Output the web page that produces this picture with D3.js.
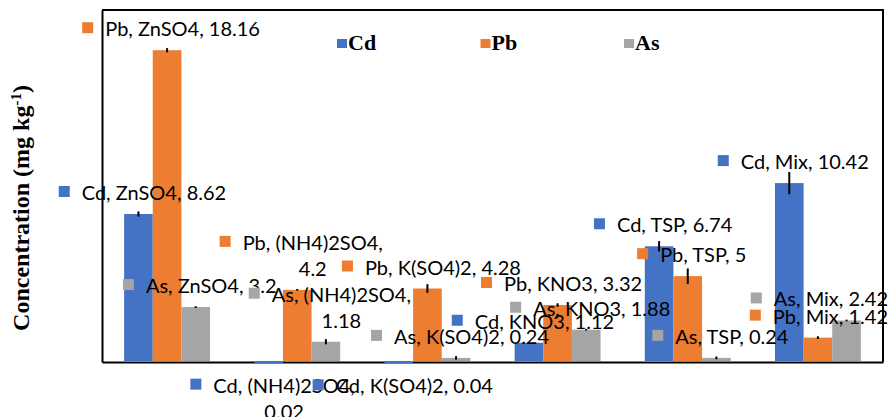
<!DOCTYPE html>
<html>
<head>
<meta charset="utf-8">
<script src="https://cdn.jsdelivr.net/npm/d3@7"></script>
<style>
    body { margin: 0; background: #fff; }
    svg { display: block; }
</style>
</head>
<body>
<svg id="chart" width="890" height="417"></svg>
<script>
var categories = ["ZnSO4", "(NH4)2SO4", "K(SO4)2", "KNO3", "TSP", "Mix"];
var seriesNames = ["Cd", "Pb", "As"];
var cdValues = [8.62, 0.02, 0.04, 1.12, 6.74, 10.42];
var pbValues = [18.16, 4.2, 4.28, 3.32, 5, 1.42];
var asValues = [3.2, 1.18, 0.24, 1.88, 0.24, 2.42];
var cdErrors = [0.15, 0, 0, 0.05, 0.3, 0.65];
var pbErrors = [0.12, 0.05, 0.25, 0.1, 0.45, 0.08];
var asErrors = [0.05, 0.15, 0.1, 0.05, 0.08, 0.05];
// labels that were dragged away from their default spot (pixels, downwards)
var movedLabels = [
    { series: "Cd", category: "(NH4)2SO4", dy: 71 },
    { series: "Cd", category: "K(SO4)2", dy: 46 }
];

var colors = { Cd: "#4472C4", Pb: "#ED7D31", As: "#A5A5A5" };
var values = { Cd: cdValues, Pb: pbValues, As: asValues };
var errors = { Cd: cdErrors, Pb: pbErrors, As: asErrors };

var plot = { left: 102, right: 883, top: 10, bottom: 362 };
var labelFont = "Lato, 'Open Sans', sans-serif";
var serifFont = "'Liberation Serif', 'Times New Roman', serif";

var svg = d3.select("#chart");

var x0 = d3.scaleBand()
    .domain(categories)
    .range([plot.left, plot.right])
    .paddingInner(0.34)
    .paddingOuter(0.17);

var x1 = d3.scaleBand()
    .domain(seriesNames)
    .range([0, x0.bandwidth()]);

var y = d3.scaleLinear()
    .domain([0, 20.5])
    .range([plot.bottom, plot.top]);

var rows = [];
seriesNames.forEach(function (s) {
    categories.forEach(function (c, i) {
        rows.push({ series: s, category: c, value: values[s][i], err: errors[s][i] });
    });
});

function cx(d) { return x0(d.category) + x1(d.series) + x1.bandwidth() / 2; }

// axes (lines only) and frame
svg.append("g")
    .attr("transform", "translate(" + plot.left + ",0)")
    .call(d3.axisLeft(y).tickValues([]).tickSizeOuter(0))
    .select(".domain").attr("stroke-width", 2);

svg.append("g")
    .attr("transform", "translate(0," + plot.bottom + ")")
    .call(d3.axisBottom(x0).tickValues([]).tickSizeOuter(0))
    .select(".domain").attr("stroke-width", 2);

svg.append("path")
    .attr("d", "M" + plot.left + "," + plot.top + "H" + plot.right + "V" + plot.bottom)
    .attr("fill", "none")
    .attr("stroke", "#000")
    .attr("stroke-width", 2);

// bars: normal bars stop on the axis, near-zero ones show as a thin strip over it
svg.append("g")
    .selectAll("rect")
    .data(rows)
    .enter()
    .append("rect")
    .attr("x", function (d) { return x0(d.category) + x1(d.series); })
    .attr("width", x1.bandwidth())
    .attr("y", function (d) {
        return plot.bottom - y(d.value) < 2 ? plot.bottom - 1 : y(d.value);
    })
    .attr("height", function (d) {
        return plot.bottom - y(d.value) < 2 ? 2 : plot.bottom - 1 - y(d.value);
    })
    .attr("fill", function (d) { return colors[d.series]; });

// error bars
svg.append("g")
    .selectAll("line")
    .data(rows.filter(function (d) { return d.err > 0; }))
    .enter()
    .append("line")
    .attr("x1", cx).attr("x2", cx)
    .attr("y1", function (d) { return y(d.value + d.err); })
    .attr("y2", function (d) { return Math.min(plot.bottom - 1, y(d.value - d.err)); })
    .attr("stroke", "#000")
    .attr("stroke-width", 2);

// data labels
var labels = svg.append("g")
    .attr("font-family", labelFont)
    .attr("font-size", 20)
    .attr("fill", "#000");

rows.forEach(function (d) {
    var g = labels.append("g");
    var full = d.series + ", " + d.category + ", " + d.value;
    var probe = g.append("text").text(full);
    var lines = [full];
    if (probe.node().getComputedTextLength() > 160) {
        lines = [d.series + ", " + d.category + ",", String(d.value)];
    }
    probe.remove();

    var texts = lines.map(function (t) { return g.append("text").text(t); });
    var widths = texts.map(function (t) { return t.node().getComputedTextLength(); });
    var textW = d3.max(widths);
    var total = 23 + textW;
    var left = cx(d) + 4 - total / 2;
    if (left + total > 888) left = 888 - total;

    var move = movedLabels.find(function (m) { return m.series === d.series && m.category === d.category; });
    var lastBase = y(d.value) - 14 + (move ? move.dy : 0);
    var firstBase = lastBase - 26 * (lines.length - 1);

    texts.forEach(function (t, k) {
        var tx = left + 23;
        if (k > 0) tx = left + 23 + (textW - widths[k]) / 2;
        t.attr("x", tx).attr("y", firstBase + 26 * k);
    });

    g.insert("rect", "text")
        .attr("x", left)
        .attr("y", firstBase - 14)
        .attr("width", 11)
        .attr("height", 11)
        .attr("fill", colors[d.series]);
});

// legend
var legend = svg.append("g")
    .selectAll("g")
    .data(seriesNames)
    .enter()
    .append("g")
    .attr("transform", function (d, i) { return "translate(" + (337 + i * 143.5) + ",0)"; });

legend.append("rect")
    .attr("y", 39)
    .attr("width", 10)
    .attr("height", 9)
    .attr("fill", function (d) { return colors[d]; });

legend.append("text")
    .attr("x", 11)
    .attr("y", 50)
    .attr("font-family", serifFont)
    .attr("font-weight", "bold")
    .attr("font-size", 22)
    .text(function (d) { return d; });

// y axis title
var yTitle = svg.append("text")
    .attr("transform", "translate(29,208) rotate(-90)")
    .attr("text-anchor", "middle")
    .attr("font-family", serifFont)
    .attr("font-weight", "bold")
    .attr("font-size", 24);
yTitle.append("tspan").text("Concentration (mg kg");
yTitle.append("tspan").attr("font-size", 15).attr("dy", -8).text("-1");
yTitle.append("tspan").attr("dy", 8).text(")");
</script>
</body>
</html>
